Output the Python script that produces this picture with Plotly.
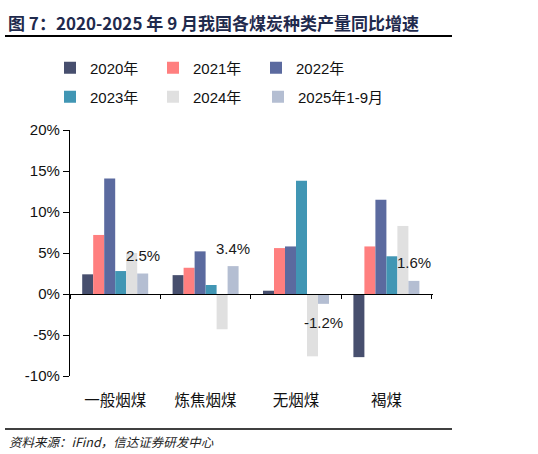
import plotly.graph_objects as go

categories = ["一般烟煤", "炼焦烟煤", "无烟煤", "褐煤"]
series_names = ["2020年", "2021年", "2022年", "2023年", "2024年", "2025年1-9月"]
v2020 = [2.4, 2.3, 0.4, -7.7]
v2021 = [7.2, 3.2, 5.6, 5.8]
v2022 = [14.1, 5.2, 5.8, 11.5]
v2023 = [2.8, 1.1, 13.8, 4.6]
v2024 = [5.0, -4.3, -7.6, 8.3]
v2025 = [2.5, 3.4, -1.2, 1.6]
series_values = [v2020, v2021, v2022, v2023, v2024, v2025]
colors = ["#474F6E", "#FF7F7F", "#5B6A9F", "#4196B4", "#E0E0E0", "#B4BED2"]
y_ticks = [-10, -5, 0, 5, 10, 15, 20]
y_ticktext = [f"{t}%" for t in y_ticks]

W, H = 538, 454
ML, MR, MT, MB = 70, 105, 130, 78
BARGAP = 0.27
YMIN, YMAX = -10, 20
FONT = "Liberation Sans, Arial, Noto Sans CJK SC"

legend_ids = ["legend", "legend", "legend", "legend2", "legend2", "legend3"]

fig = go.Figure()
for name, vals, c, lg in zip(series_names, series_values, colors, legend_ids):
    fig.add_trace(go.Bar(
        x=categories, y=vals, name=name, marker=dict(color=c, line=dict(width=0)),
        legend=lg,
    ))

# invisible helper trace for the zero-line category axis
fig.add_trace(go.Scatter(x=categories, y=[0] * len(categories), xaxis="x2", mode="markers",
                         marker=dict(opacity=0), showlegend=False, hoverinfo="skip"))

# data labels for 2025 series
plot_w = W - ML - MR
bw = plot_w / len(categories) * (1 - BARGAP) / len(series_names)
idx = len(series_names) - 1
for cat, v in zip(categories, v2025):
    fig.add_annotation(x=cat, y=v, xref="x", yref="y", text=f"{v:.1f}%", showarrow=False,
                       xshift=(idx - (len(series_names) - 1) / 2) * bw,
                       yshift=18 if v >= 0 else -19,
                       font=dict(family=FONT, size=15, color="#1a1a1a"))

def cx(px):
    return px / W

def cy(py):
    return 1 - py / H

def px_x(px):
    return (px - ML) / plot_w

def px_y(py):
    return 1 - (py - MT) / (H - MT - MB)

# title, source
fig.add_annotation(xref="paper", yref="paper", x=px_x(6), y=px_y(22),
                   xanchor="left", yanchor="middle", showarrow=False,
                   text="<b>图 7：2020-2025 年 9 月我国各煤炭种类产量同比增速</b>",
                   font=dict(family="Noto Sans CJK SC", size=17, color="#1F2A4D"))
fig.add_annotation(xref="paper", yref="paper", x=px_x(7), y=px_y(441),
                   xanchor="left", yanchor="middle", showarrow=False,
                   text="<i>资料来源：iFind，信达证券研发中心</i>",
                   font=dict(family="Noto Sans CJK SC", size=12.5, color="#222222"))

fig.add_shape(type="line", xref="paper", yref="paper", x0=px_x(5), x1=px_x(452), y0=px_y(36), y1=px_y(36),
              line=dict(color="#000000", width=2.2))
fig.add_shape(type="line", xref="paper", yref="paper", x0=px_x(5), x1=px_x(452), y0=px_y(429), y1=px_y(429),
              line=dict(color="#000000", width=1.6))

legend_common = dict(orientation="h", xanchor="left", yanchor="middle", xref="container", yref="container",
                     font=dict(family=FONT, size=15, color="#111111"),
                     entrywidth=58, entrywidthmode="pixels", itemwidth=30,
                     bgcolor="rgba(0,0,0,0)", traceorder="normal", tracegroupgap=0)
legend3_opts = {k: v for k, v in legend_common.items() if k not in ("entrywidth", "entrywidthmode")}

LEG_X = 50
fig.update_layout(
    width=W, height=H, margin=dict(l=ML, r=MR, t=MT, b=MB, autoexpand=False),
    paper_bgcolor="white", plot_bgcolor="white",
    barmode="group", bargap=BARGAP, bargroupgap=0,
    font=dict(family=FONT, size=14, color="#111111"),
    legend=dict(x=cx(LEG_X), y=cy(68), **legend_common),
    legend2=dict(x=cx(LEG_X), y=cy(97), **legend_common),
    legend3=dict(x=cx(LEG_X + 2 * 104), y=cy(97), **legend3_opts),
    xaxis=dict(type="category", showline=False, ticks="", showgrid=False, zeroline=False,
               tickfont=dict(family=FONT, size=15.5, color="#111111"), ticklabelstandoff=13),
    xaxis2=dict(type="category", overlaying="x", matches="x", anchor="free",
                position=(0 - YMIN) / (YMAX - YMIN), side="bottom",
                showline=True, linecolor="#000000", linewidth=1.2,
                ticks="outside", tickson="boundaries", ticklen=4, tickcolor="#000000",
                showticklabels=False, showgrid=False, zeroline=False),
    yaxis=dict(range=[YMIN, YMAX], tickvals=y_ticks, ticktext=y_ticktext, showgrid=False, zeroline=False,
               showline=True, linecolor="#000000", linewidth=1.2, ticks="outside", ticklen=6,
               tickcolor="#000000", tickfont=dict(family=FONT, size=15, color="#111111")),
)

fig.write_html("out.html", config={"displayModeBar": False},
               post_script="document.body.style.margin='0px';")
